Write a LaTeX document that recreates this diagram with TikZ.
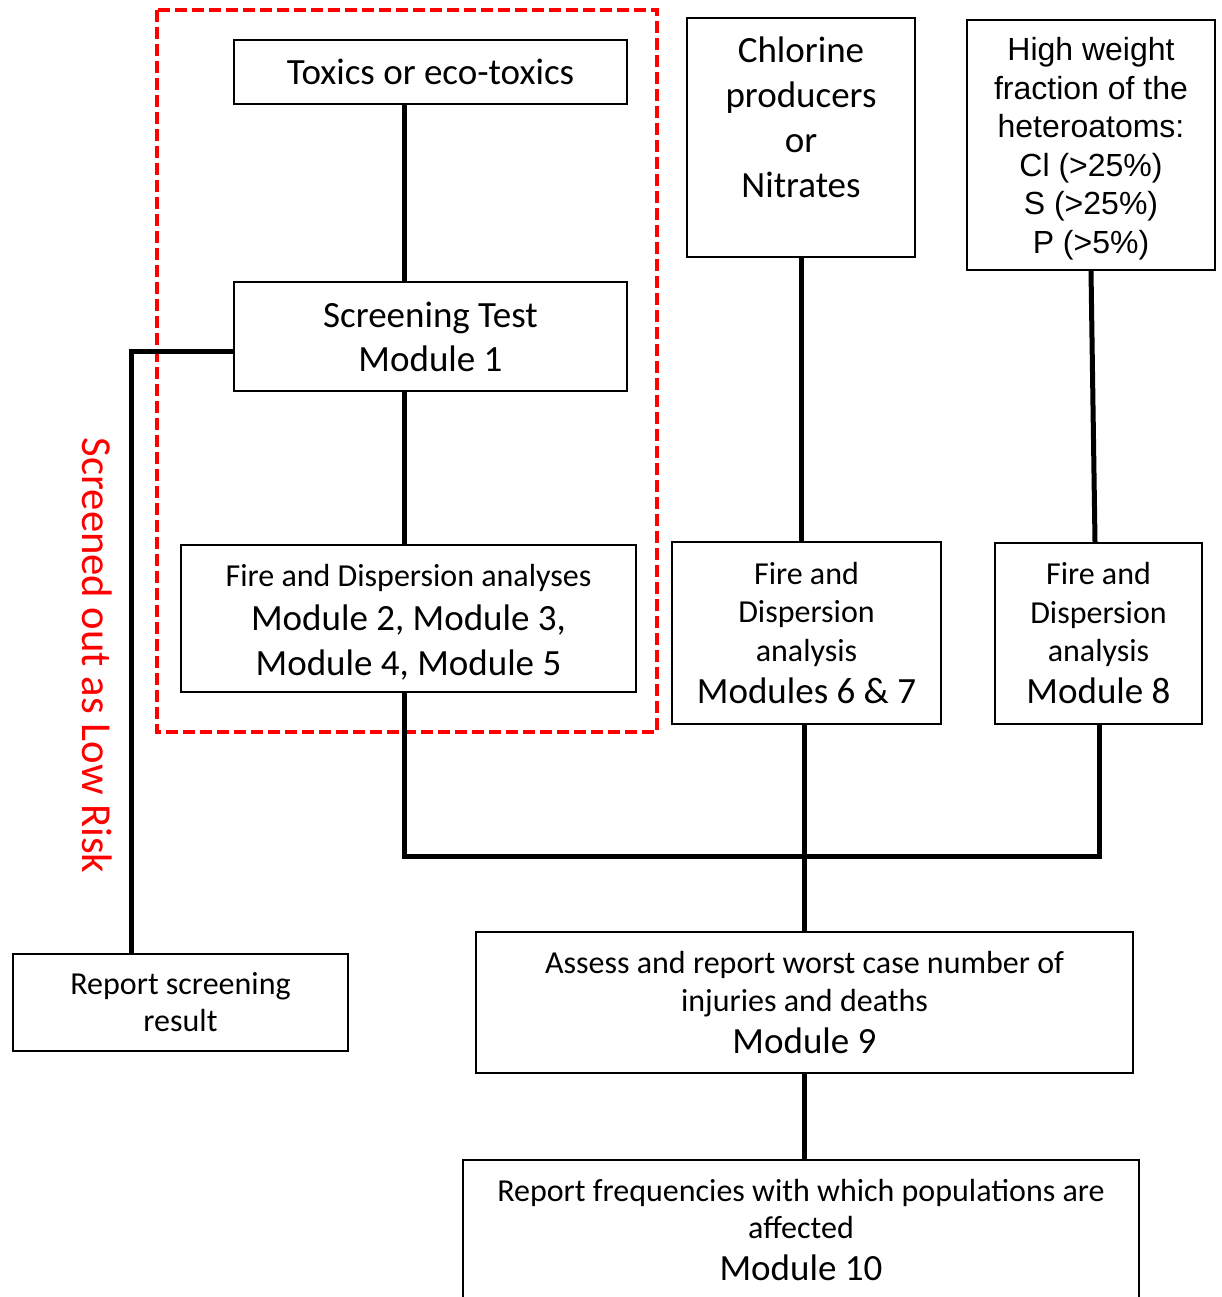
\documentclass[tikz,border=0pt]{standalone}
\usepackage{fontspec}
\setmainfont{Carlito}
\newfontfamily\arialfont{Liberation Sans}
\usetikzlibrary{calc}
\tikzset{
  box/.style={draw=black, line width=1.8pt, fill=white, inner sep=0pt, align=center},
  conn/.style={draw=black, line width=5pt},
  frame/.style={draw=red, line width=4pt, dash pattern=on 12pt off 5pt},
  big/.style={font=\fontsize{37}{45}\selectfont}
}
\newcommand{\bigsz}{\fontsize{37}{45}\selectfont}
\begin{document}
\begin{tikzpicture}[x=1pt,y=-1pt]
\useasboundingbox (0,0) rectangle (1221,1297);
\clip (0,0) rectangle (1221,1297);
\fill[white] (0,0) rectangle (1221,1297);

% red dashed frame
\draw[frame] (157,10) rectangle (657,732);

% boxes
\node[box, big, minimum width=393pt, minimum height=64pt] (tox) at (430.5,72) {Toxics or eco-toxics};
\node[box, font=\fontsize{37}{44}\selectfont, minimum width=393pt, minimum height=109pt] (scr) at (430.5,336.5) {Screening Test\\Module 1};
\node[box, font=\fontsize{32}{42}\selectfont, minimum width=455pt, minimum height=147pt] (fd1) at (408.5,618.5)
  {\rule{0pt}{30pt}Fire and Dispersion analyses\\[2pt]{\bigsz Module 2, Module 3,}\\[3pt]{\bigsz Module 4, Module 5}};
\node[box, big, minimum width=228pt, minimum height=239pt, text depth=40pt] (chl) at (801,137.5)
  {Chlorine\\producers\\or\\Nitrates};
\node[box, font=\arialfont\fontsize{32}{38.5}\selectfont, minimum width=248pt, minimum height=250pt] (hw) at (1091,145)
  {\rule{0pt}{31pt}High weight\\fraction of the\\heteroatoms:\\Cl (>25\%)\\S (>25\%)\\P (>5\%)};
\node[box, font=\fontsize{32}{38.5}\selectfont, minimum width=269pt, minimum height=182pt] (fd67) at (806.5,633)
  {Fire and\\Dispersion\\analysis\\[3.5pt]{\bigsz Modules 6 \& 7}};
\node[box, font=\fontsize{32}{38.5}\selectfont, minimum width=207pt, minimum height=181pt] (fd8) at (1098.5,633.5)
  {Fire and\\Dispersion\\analysis\\[3.5pt]{\bigsz Module 8}};
\node[box, font=\fontsize{32}{38}\selectfont, minimum width=657pt, minimum height=141pt] (ass) at (804.5,1002.5)
  {Assess and report worst case number of\\injuries and deaths\\[4pt]{\bigsz Module 9}};
\node[box, font=\fontsize{32}{37}\selectfont, minimum width=676pt, minimum height=140pt] (rf) at (801,1230)
  {Report frequencies with which populations are\\affected\\[5pt]{\bigsz Module 10}};
\node[box, font=\fontsize{32}{37}\selectfont, minimum width=335pt, minimum height=97pt] (rep) at (180.5,1002.5)
  {Report screening\\result};

% junction coordinates
\coordinate (jL) at (404,856);
\coordinate (jM) at (804,856);
\coordinate (jR) at (1099,856);
\coordinate (bend) at (131,351);

% connectors
\draw[conn] (tox.south -| jL) -- (scr.north -| jL);
\draw[conn] (scr.south -| jL) -- (fd1.north -| jL);
\draw[conn] (scr.west |- bend) -- (bend) -- (bend |- rep.north);
\draw[conn] (fd1.south -| jL) -- (jL) -- (jR) -- (jR |- fd8.south);
\draw[conn] (chl.south) -- (chl.south |- fd67.north);
\draw[conn] (hw.south) -- ($(fd8.north)+(-3.5,0)$);
\draw[conn] (fd67.south -| jM) -- (ass.north -| jM);
\draw[conn] (ass.south -| jM) -- (rf.north -| jM);

% rotated label
\node[text=red, font=\fontsize{42.7}{50}\selectfont, rotate=-90, inner sep=0pt] (lowrisk) at (97,655.5) {Screened out as Low Risk};
\end{tikzpicture}
\end{document}
